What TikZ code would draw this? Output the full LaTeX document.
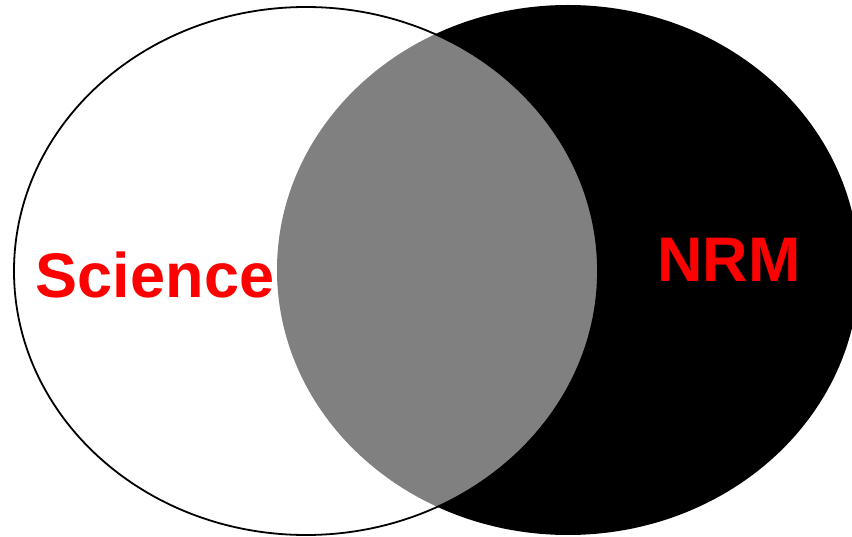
\documentclass[tikz,border=0pt]{standalone}
\usepackage{fontspec}
\setmainfont{Liberation Sans}
\begin{document}
\begin{tikzpicture}[x=1pt,y=-1pt,
  lbl/.style={text=red,font=\bfseries\fontsize{63}{63}\selectfont,inner sep=0pt,anchor=base}]
\useasboundingbox (0,0) rectangle (852,537);
\begin{scope}
\clip (0,0) rectangle (852,537);
\fill[black] (568,270) ellipse [x radius=291,y radius=265];
\path[fill=white,fill opacity=0.5,draw=black,line width=1.8pt] (306,271) ellipse [x radius=292,y radius=264];
\end{scope}
\node[lbl] (sci) at (155,298) {Science};
\node[lbl] (nrm) at (729,282) {NRM};
\end{tikzpicture}
\end{document}
